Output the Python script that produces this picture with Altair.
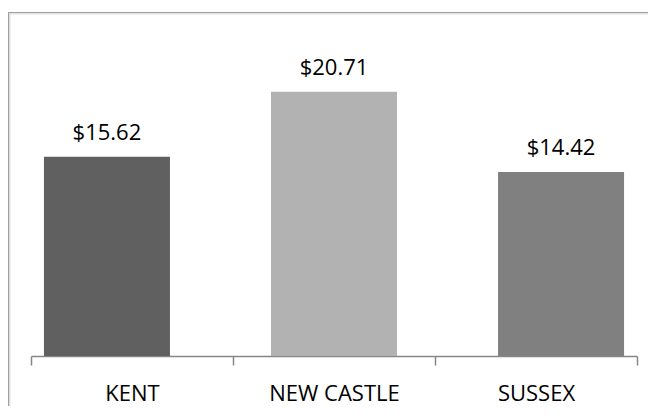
import altair as alt
import pandas as pd

counties = ["KENT", "NEW CASTLE", "SUSSEX"]
values = [15.62, 20.71, 14.42]
colors = ["#606060", "#b2b2b2", "#808080"]

df = pd.DataFrame({"county": counties, "value": values})

W, H = 606, 319
FONT = "Open Sans"

bar_x = alt.X("county:N", sort=counties, axis=None,
              scale=alt.Scale(paddingInner=0.445, paddingOuter=0.057))

bars = alt.Chart(df).mark_bar().encode(
    x=bar_x,
    y=alt.Y("value:Q", axis=None, scale=alt.Scale(domain=[0, 25], nice=False)),
    color=alt.Color("county:N", sort=counties,
                    scale=alt.Scale(domain=counties, range=colors), legend=None),
)

labels = alt.Chart(df).mark_text(
    baseline="alphabetic", dy=-17, fontSize=22, font=FONT, color="#000000"
).encode(
    x=bar_x,
    y=alt.Y("value:Q"),
    text=alt.Text("value:Q", format="$.2f"),
)

axis_layer = alt.Chart(df).mark_bar(opacity=0).encode(
    x=alt.X("county:N", sort=counties, title=None,
            scale=alt.Scale(paddingInner=0, paddingOuter=0),
            axis=alt.Axis(tickBand="extent", labelAngle=0, tickSize=9,
                          tickWidth=1.5, domainWidth=1.5,
                          domainColor="#868686", tickColor="#868686",
                          labelFont=FONT, labelFontSize=22, labelColor="#000000",
                          labelBaseline="alphabetic", labelPadding=35,
                          grid=False)),
)

frame_outer = alt.Chart(alt.Data(values=[{}])).mark_rect(
    fill="transparent", stroke="#a0a0a0", strokeWidth=1.2
).encode(x=alt.value(-22.5), x2=alt.value(W + 60), y=alt.value(-24.5), y2=alt.value(H + 120))

frame_inner = alt.Chart(alt.Data(values=[{}])).mark_rect(
    fill="transparent", stroke="#d4d4d4", strokeWidth=1
).encode(x=alt.value(-21.2), x2=alt.value(W + 60), y=alt.value(-23.2), y2=alt.value(H + 120))

chart = alt.layer(
    frame_outer, frame_inner, alt.layer(bars, labels), axis_layer
).resolve_scale(x="independent").properties(
    width=W, height=H,
    autosize=alt.AutoSizeParams(type="none"),
    padding={"left": 23, "top": 29, "right": 11, "bottom": 50},
).configure_view(stroke=None)

chart.save("out.html", embed_options={"renderer": "svg", "actions": False})
